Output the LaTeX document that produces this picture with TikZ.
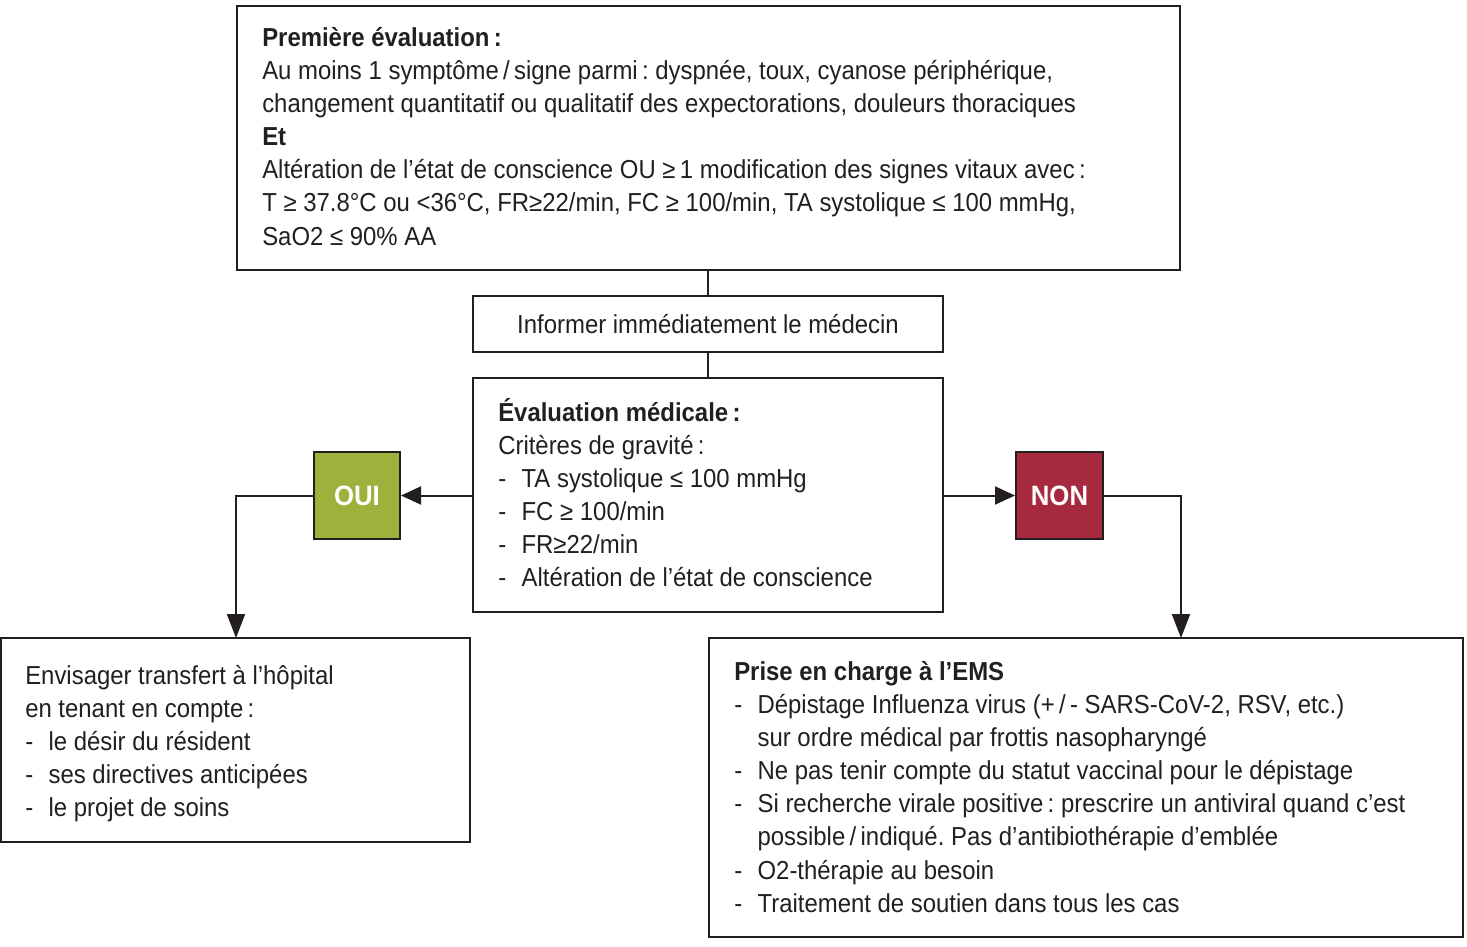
\documentclass[tikz,border=0pt]{standalone}
\usepackage{fontspec}
\setmainfont{Liberation Sans}[FakeStretch=0.92]
\usetikzlibrary{arrows.meta}
\frenchspacing
\definecolor{ink}{HTML}{231F20}
\definecolor{ouigreen}{HTML}{9DB23C}
\definecolor{nonred}{HTML}{A62940}
\newcommand{\itm}[1]{\makebox[17.5pt][l]{-}#1}
\newcommand{\ind}{\hspace*{17.5pt}}
\begin{document}
\begin{tikzpicture}[x=0.75pt,y=-0.75pt,
  box/.style={draw=ink,line width=1.5pt,fill=white,inner sep=0pt},
  txt/.style={anchor=north west,inner sep=0pt,align=left,font=\fontsize{19.5}{24.8}\selectfont\frenchspacing,text=ink},
  conn/.style={draw=ink,line width=1.5pt},
  arr/.style={conn,-{Triangle[length=15pt,width=13.5pt]}},
  varr/.style={conn,-{Triangle[length=18pt,width=13.5pt]}},
  tag/.style={draw=ink,line width=1.5pt,inner sep=0pt,text=white,font=\fontsize{21}{25}\selectfont\bfseries}]
\useasboundingbox (0,0) rectangle (1467,946);
% boxes
\node[box,minimum width=707.25pt,minimum height=198pt] (top) at (708.5,138) {};
\node[box,minimum width=352.5pt,minimum height=42pt] (inf) at (708,324) {};
\node[box,minimum width=352.5pt,minimum height=175.5pt] (ev) at (708,495) {};
\node[tag,fill=ouigreen,minimum width=64.5pt,minimum height=65.25pt] (oui) at (357,495.5) {OUI};
\node[tag,fill=nonred,minimum width=65.25pt,minimum height=65.25pt] (non) at (1059.5,495.5) {NON};
\node[box,minimum width=351.75pt,minimum height=153pt] (left) at (235.5,740) {};
\node[box,minimum width=565.5pt,minimum height=224.25pt] (right) at (1086,787.5) {};
\coordinate (lin) at (236,638);
\coordinate (rin) at (1181,638);
% texts
\node[txt] (toptxt) at (262,23.2) {\strut\textbf{Première évaluation\,:}\\
Au moins 1 symptôme\,/\,signe parmi\,: dyspnée, toux, cyanose périphérique,\\
changement quantitatif ou qualitatif des expectorations, douleurs thoraciques\\
\textbf{Et}\\
Altération de l’état de conscience OU ≥\,1 modification des signes vitaux avec\,:\\
T ≥ 37.8°C ou <36°C, FR≥22/min, FC ≥ 100/min, TA systolique ≤ 100 mmHg,\\
SaO2 ≤ 90\% AA};
\node[txt,anchor=base] (inftxt) at (708,333) {Informer immédiatement le médecin};
\node[txt] (evtxt) at (498,398.2) {\strut\textbf{Évaluation médicale\,:}\\
Critères de gravité\,:\\
\itm{TA systolique ≤ 100 mmHg}\\
\itm{FC ≥ 100/min}\\
\itm{FR≥22/min}\\
\itm{Altération de l’état de conscience}};
\node[txt] (lefttxt) at (25,660.7) {\strut Envisager transfert à l’hôpital\\
en tenant en compte\,:\\
\itm{le désir du résident}\\
\itm{ses directives anticipées}\\
\itm{le projet de soins}};
\node[txt] (righttxt) at (734,657.2) {\strut\textbf{Prise en charge à l’EMS}\\
\itm{Dépistage Influenza virus (+\,/\,- SARS-CoV-2, RSV, etc.)}\\
\ind sur ordre médical par frottis nasopharyngé\\
\itm{Ne pas tenir compte du statut vaccinal pour le dépistage}\\
\itm{Si recherche virale positive\,: prescrire un antiviral quand c’est}\\
\ind possible\,/\,indiqué. Pas d’antibiothérapie d’emblée\\
\itm{O2-thérapie au besoin}\\
\itm{Traitement de soutien dans tous les cas}};
% connectors
\draw[conn] (inf.north |- top.south) -- (inf.north);
\draw[conn] (inf.south) -- (ev.north);
\draw[arr] (ev.west |- oui.east) -- (oui.east);
\draw[varr] (oui.west) -| (lin);
\draw[arr] (ev.east |- non.west) -- (non.west);
\draw[varr] (non.east) -| (rin);
\end{tikzpicture}
\end{document}
